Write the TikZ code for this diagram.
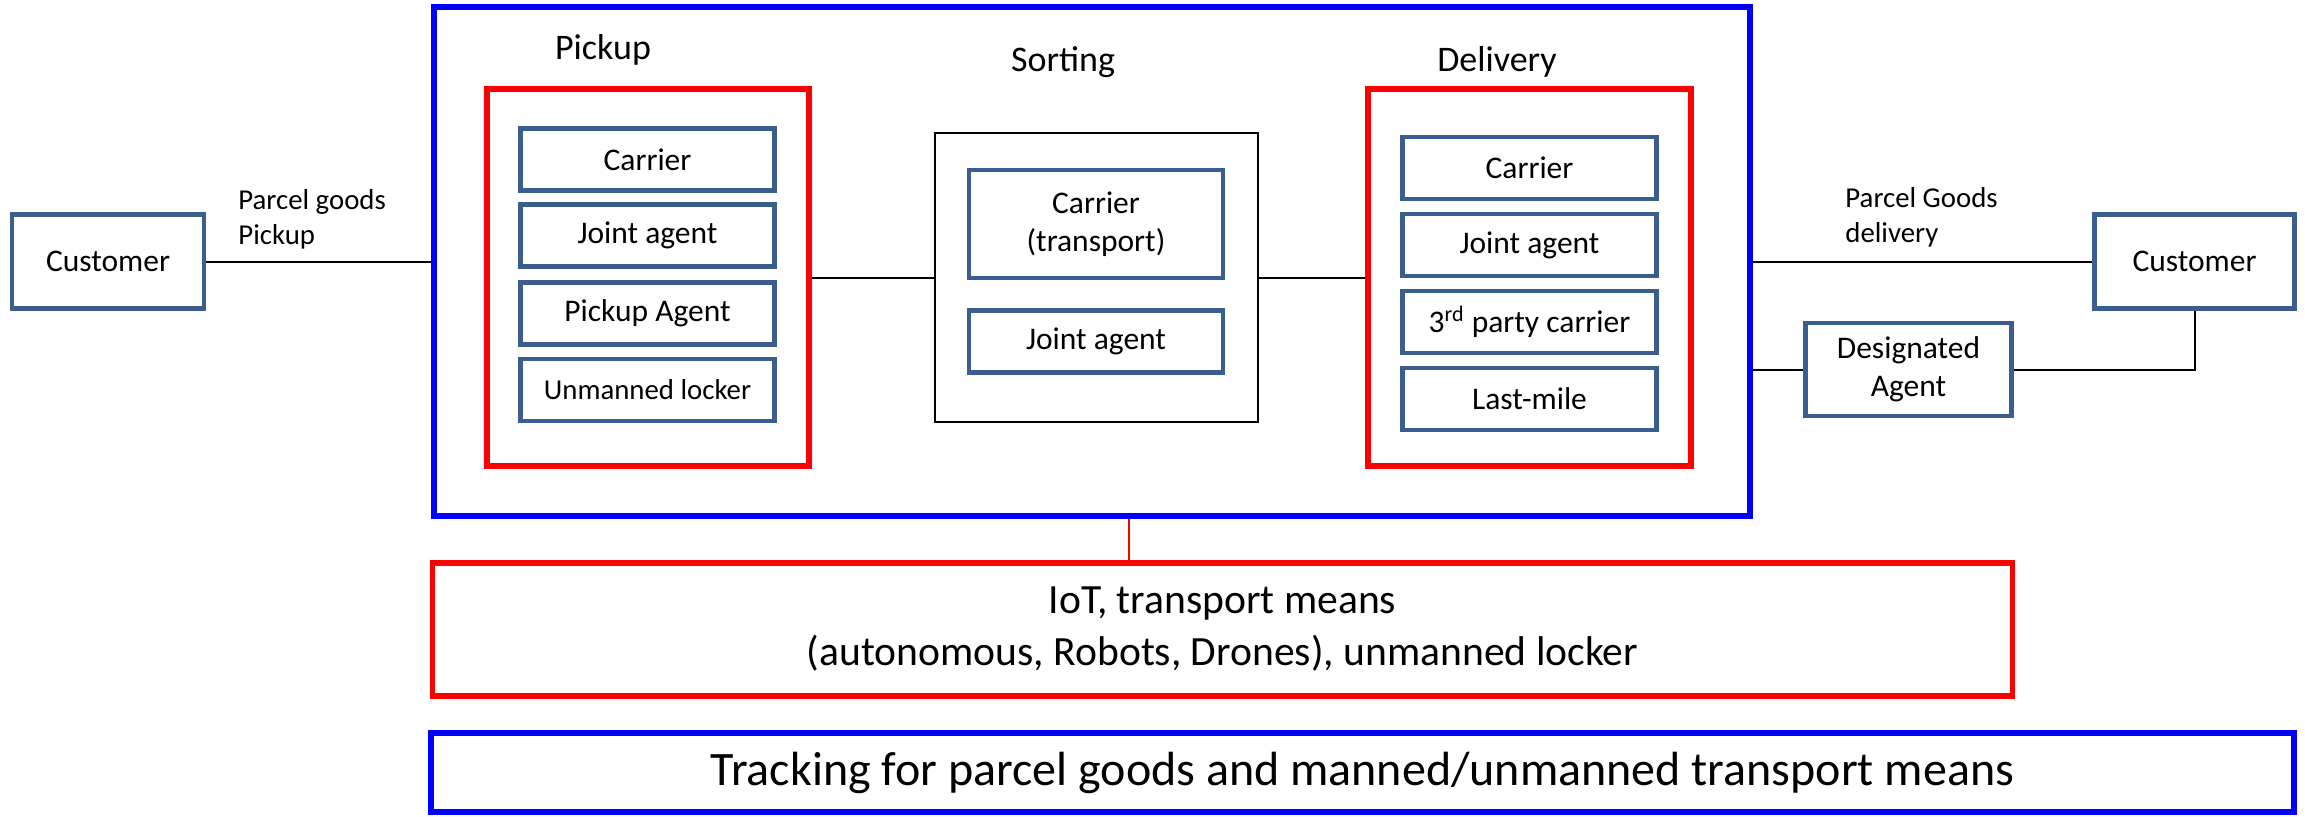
\documentclass[tikz,border=0pt]{standalone}
\usepackage{fontspec}
\setmainfont{Carlito}
\definecolor{agentblue}{HTML}{3A5F8E}
\begin{document}
\begin{tikzpicture}[x=0.5pt,y=-0.5pt,
  frame/.style={draw, inner sep=0pt, align=center},
  agent/.style={frame, draw=agentblue, line width=2.2pt, font=\fontsize{15.75}{19}\selectfont},
  item/.style={agent, minimum width=127pt, minimum height=31pt},
  group/.style={frame, draw=red, line width=2.8pt},
  outer/.style={frame, draw=blue, line width=2.8pt},
  title/.style={font=\fontsize{18}{22}\selectfont},
  flowlabel/.style={font=\fontsize{14.4}{17.5}\selectfont, align=left, anchor=west, inner sep=0pt},
  link/.style={line width=1pt}
]
\useasboundingbox (0,0) rectangle (2305,816);

% customers and designated agent
\node[agent, minimum width=96pt, minimum height=47pt] (custA) at (108,261.5) {Customer};
\node[agent, minimum width=100pt, minimum height=47pt] (custB) at (2194.5,261.5) {Customer};
\node[agent, minimum width=103pt, minimum height=46.5pt] (desig) at (1908.5,369.5) {Designated\\Agent};

% main process frame
\node[outer, minimum width=658pt, minimum height=254.5pt] (proc) at (1092,261.5) {};

% pickup group
\node[title] (tPick) at (603,50) {Pickup};
\node[group, minimum width=161pt, minimum height=188.5pt] (pick) at (648,277.5) {};
\node[item] (p1) at (647.5,159.5) {Carrier};
\node[item] (p2) at (647.5,235.5) {Joint agent};
\node[item] (p3) at (647.5,313.5) {Pickup Agent};
\node[item, font=\fontsize{14.4}{17}\selectfont] (p4) at (647.5,390) {Unmanned locker};

% sorting group
\node[title] (tSort) at (1063,62) {Sorting};
\node[frame, line width=1.1pt, minimum width=161.5pt, minimum height=144.5pt] (sort) at (1096.5,277.5) {};
\node[item, minimum height=54pt] (s1) at (1096,224) {Carrier\\(transport)};
\node[item] (s2) at (1096,341.5) {Joint agent};

% delivery group
\node[title] (tDel) at (1497,62) {Delivery};
\node[group, minimum width=161.5pt, minimum height=188.5pt] (del) at (1529.5,277.5) {};
\node[item] (d1) at (1529.5,168) {Carrier};
\node[item] (d2) at (1529.5,245) {Joint agent};
\node[item] (d3) at (1529.5,322) {3\textsuperscript{rd} party carrier};
\node[item] (d4) at (1529.5,399) {Last-mile};

% enabling technologies and tracking
\node[group, minimum width=790pt, minimum height=66.5pt, font=\fontsize{20.8}{26}\selectfont] (iot) at (1222.5,629.5)
  {IoT, transport means\\(autonomous, Robots, Drones), unmanned locker};
\node[outer, minimum width=931.5pt, minimum height=39.5pt, font=\fontsize{24}{28}\selectfont] (track) at (1362.5,772.5)
  {Tracking for parcel goods and manned/unmanned transport means};

% flow labels
\node[flowlabel] (lPick) at (238,219.5) {Parcel goods\\Pickup};
\node[flowlabel] (lDel) at (1845,217.5) {Parcel Goods\\delivery};

% connectors
\coordinate (tap) at (1129,516);
\draw[link] (custA.east) -- (custA.east -| proc.west);
\draw[link] (pick.east) -- (sort.west);
\draw[link] (sort.east) -- (del.west);
\draw[link] (custB.west -| proc.east) -- (custB.west);
\draw[link] (desig.west -| proc.east) -- (desig.west);
\draw[link] (desig.east) -| (custB.south);
\draw[red, line width=0.6pt] (proc.south -| tap) -- (iot.north -| tap);
\end{tikzpicture}
\end{document}
